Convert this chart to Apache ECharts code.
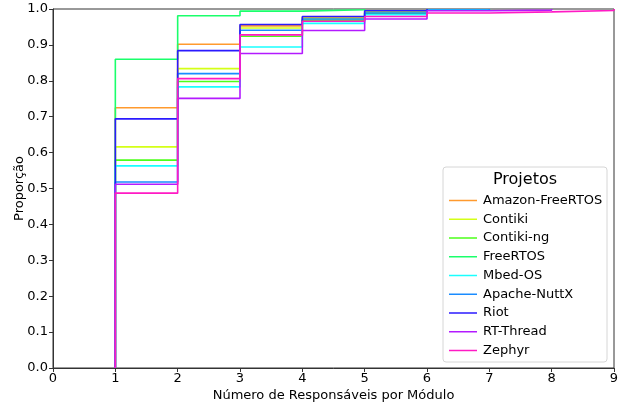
<!DOCTYPE html>
<html>
<head>
<meta charset="utf-8">
<script src="https://cdn.jsdelivr.net/npm/echarts@6/dist/echarts.min.js"></script>
<style>html,body{margin:0;padding:0;background:#fff;}#c{width:618px;height:406px;}</style>
</head>
<body>
<div id="c"></div>
<script>
// Number of maintainers per module (x) -> cumulative proportion (ECDF)
const xSteps = [1, 2, 3, 4, 5, 6, 7, 8, 9];
const projects = ["Amazon-FreeRTOS", "Contiki", "Contiki-ng", "FreeRTOS", "Mbed-OS", "Apache-NuttX", "Riot", "RT-Thread", "Zephyr"];
const amazonFreeRTOS = [0.725, 0.902, 0.953, 0.976, 0.994, 1.0];
const contiki       = [0.616, 0.834, 0.947, 0.974, 0.992, 1.0];
const contikiNg     = [0.579, 0.798, 0.924, 0.969, 0.988, 0.998, 1.0];
const freeRTOS      = [0.860, 0.981, 0.994, 0.998, 1.0];
const mbedOS        = [0.563, 0.783, 0.894, 0.960, 0.984, 0.998, 1.0];
const apacheNuttX   = [0.518, 0.820, 0.941, 0.972, 0.989, 0.997, 1.0];
const riot          = [0.694, 0.884, 0.957, 0.979, 0.995, 1.0];
const rtThread      = [0.512, 0.751, 0.876, 0.940, 0.972, 0.995, 0.997, 1.0];
const zephyr        = [0.487, 0.806, 0.928, 0.966, 0.979, 0.989, 0.992, 0.996, 1.0];
const xTicks = [0, 1, 2, 3, 4, 5, 6, 7, 8, 9];
const yTicks = [0.0, 0.1, 0.2, 0.3, 0.4, 0.5, 0.6, 0.7, 0.8, 0.9, 1.0];

const seriesValues = [amazonFreeRTOS, contiki, contikiNg, freeRTOS, mbedOS, apacheNuttX, riot, rtThread, zephyr];
const colors = ["#ff9a2e", "#d4ff17", "#4dff1a", "#1aff6b", "#1affff", "#1a8cff", "#2b1aff", "#b31aff", "#ff1ac4"];

const FONT = "DejaVu Sans";

function ecdfData(vals) {
  const d = [[xSteps[0], 0]];
  vals.forEach((v, i) => d.push([xSteps[i], v]));
  return d;
}

const chart = echarts.init(document.getElementById('c'), null, {renderer: 'canvas'});
chart.setOption({
  animation: false,
  backgroundColor: '#fff',
  textStyle: {fontFamily: FONT},
  grid: {left: 53, right: 4, top: 9, bottom: 38, containLabel: false, outerBoundsMode: 'none',
         show: true, borderColor: '#333', borderWidth: 1, backgroundColor: 'transparent'},
  xAxis: {
    type: 'value', min: xTicks[0], max: xTicks[xTicks.length - 1], interval: 1,
    name: 'Número de Responsáveis por Módulo', nameLocation: 'middle', nameGap: 21,
    nameMoveOverlap: false,
    nameTextStyle: {fontSize: 13, color: '#000', fontFamily: FONT},
    axisLine: {show: true, lineStyle: {color: '#333', width: 1}},
    axisTick: {show: true, length: 4, lineStyle: {color: '#333'}},
    axisLabel: {fontSize: 13, color: '#000', margin: 4, fontFamily: FONT},
    splitLine: {show: false}
  },
  yAxis: {
    type: 'value', min: yTicks[0], max: yTicks[yTicks.length - 1], interval: 0.1,
    name: 'Proporção', nameLocation: 'middle', nameGap: 27,
    nameMoveOverlap: false,
    nameTextStyle: {fontSize: 13, color: '#000', fontFamily: FONT},
    axisLine: {show: true, lineStyle: {color: '#333', width: 1}},
    axisTick: {show: true, length: 4, lineStyle: {color: '#333'}},
    axisLabel: {fontSize: 13, color: '#000', margin: 5, fontFamily: FONT, formatter: v => v.toFixed(1)},
    splitLine: {show: false}
  },
  legend: {
    orient: 'vertical', left: 444, top: 189, z: 60,
    itemWidth: 28, itemHeight: 14, itemGap: 5.75,
    icon: 'path://M0,6.5 L28,6.5 L28,8 L0,8 Z',
    textStyle: {fontSize: 13, color: '#000', fontFamily: FONT, padding: [0, 0, 0, 1]},
    data: projects
  },
  graphic: [
    {type: 'rect', z: 50, shape: {x: 443, y: 167, width: 164, height: 195, r: 3},
     style: {fill: 'rgba(255,255,255,0.85)', stroke: '#d6d6d6', lineWidth: 1}},
    {type: 'text', z: 61, style: {x: 525, y: 180, text: 'Projetos', textAlign: 'center', textVerticalAlign: 'middle',
      font: '16px "DejaVu Sans"', fill: '#000'}}
  ],
  series: projects.map((name, i) => ({
    name: name, type: 'line', step: 'end', symbol: 'none',
    data: ecdfData(seriesValues[i]),
    lineStyle: {color: colors[i], width: 1.6},
    itemStyle: {color: colors[i]},
    z: 2 + i
  }))
});
</script>
</body>
</html>
